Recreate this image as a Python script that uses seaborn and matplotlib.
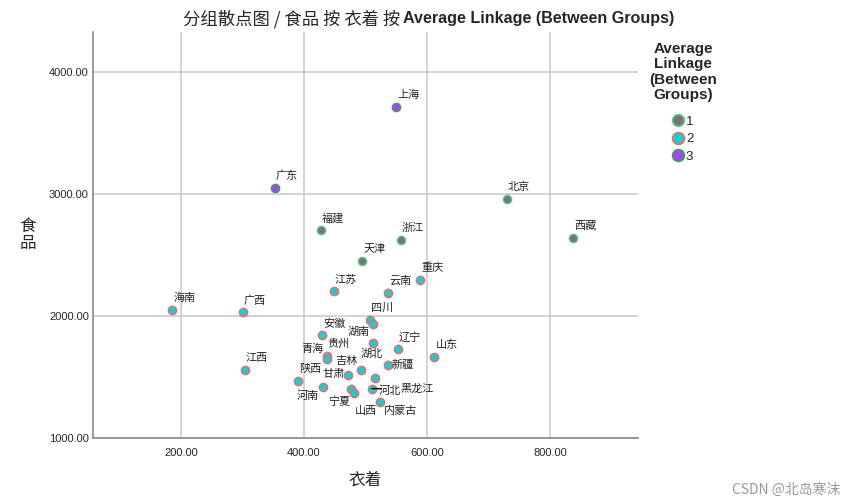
import matplotlib
matplotlib.use("Agg")
import matplotlib.pyplot as plt
from matplotlib.lines import Line2D
import seaborn as sns
import pandas as pd

# ---- data ----
provinces = ["上海", "广东", "北京", "西藏", "福建", "浙江", "天津",
             "江苏", "云南", "重庆", "四川", "湖南", "安徽", "湖北", "辽宁",
             "山东", "贵州", "青海", "新疆", "吉林", "甘肃", "陕西", "河北",
             "河南", "宁夏", "山西", "黑龙江", "内蒙古", "江西", "海南", "广西"]
clothing = [550, 353, 730, 838, 428, 557, 495,
            449, 537, 589, 507, 512, 430, 512, 553,
            612, 437, 438, 536, 492, 472, 391, 515,
            431, 477, 481, 510, 524, 304, 186, 301]
food = [3714, 3054, 2958, 2643, 2707, 2624, 2454,
        2202, 2191, 2298, 1970, 1937, 1841, 1778, 1729,
        1668, 1674, 1649, 1602, 1559, 1518, 1468, 1491,
        1422, 1405, 1367, 1405, 1296, 1559, 2052, 2030]
cluster = [3, 3, 1, 1, 1, 1, 1,
           2, 2, 2, 2, 2, 2, 2, 2,
           2, 2, 2, 2, 2, 2, 2, 2,
           2, 2, 2, 2, 2, 2, 2, 2]
cluster_levels = [1, 2, 3]
x_ticks = [200, 400, 600, 800]
y_ticks = [1000, 2000, 3000, 4000]

# ---- styling ----
face_colors = {1: "#767676", 2: "#1ecccc", 3: "#a24af2"}
edge_colors = {1: "#5cc98e", 2: "#ee6a6c", 3: "#3f9d59"}
# label offsets in pixels (dx right, dy up)
label_offsets = {
    "湖南": (-14, -8), "湖北": (-1, -11), "青海": (-15, 10), "新疆": (15, 0),
    "吉林": (-14, 9), "甘肃": (-15, 1), "河北": (15, -13), "河南": (-15, -9),
    "宁夏": (-12, -13), "山西": (12, -18), "黑龙江": (45, 0), "内蒙古": (20, -9),
}
default_offset = (12, 12)

sns.set_style("white")
plt.rcParams["font.family"] = ["Liberation Sans", "Noto Sans CJK SC", "DejaVu Sans"]

df = pd.DataFrame({"name": provinces, "x": clothing, "y": food, "cluster": cluster})

fig = plt.figure(figsize=(8.54, 5.04), dpi=100)
ax = fig.add_axes([93 / 854, 1 - 438 / 504, (638 - 93) / 854, (438 - 32) / 504])

for c in cluster_levels:
    sub = df[df["cluster"] == c]
    sns.scatterplot(data=sub, x="x", y="y", ax=ax, color=face_colors[c],
                    edgecolor=edge_colors[c], linewidth=1.0, s=36, zorder=3,
                    legend=False)

cjk = ["Noto Sans CJK SC", "DejaVu Sans"]
for _, r in df.iterrows():
    dx, dy = label_offsets.get(r["name"], default_offset)
    kw = dict(xy=(r["x"], r["y"]), xytext=(dx, dy), textcoords="offset pixels",
              ha="center", va="center", fontsize=8, family=cjk,
              color="#222222", zorder=4)
    if r["name"] == "黑龙江":
        kw["arrowprops"] = dict(arrowstyle="-", color="black", lw=1,
                                shrinkA=11, shrinkB=0)
    ax.annotate(r["name"], **kw)

ax.set_xlim(57, 943)
ax.set_ylim(1000, 4330)
ax.set_xticks(x_ticks)
ax.set_yticks(y_ticks)
ax.set_xticklabels([f"{v:.2f}" for v in x_ticks], fontsize=8)
ax.set_yticklabels([f"{v:.2f}" for v in y_ticks], fontsize=8)
ax.tick_params(axis="x", length=0, pad=7)
ax.tick_params(axis="y", length=0, pad=3)
ax.grid(True, color="#c8c8c8", lw=1.1, zorder=0)
ax.set_axisbelow(True)
for s in ["top", "right"]:
    ax.spines[s].set_visible(False)
for s in ["left", "bottom"]:
    ax.spines[s].set_color("#888888")
    ax.spines[s].set_linewidth(1.2)

ax.set_xlabel("衣着", fontsize=12, family=cjk, labelpad=10)
ax.set_ylabel("食\n品", fontsize=12, family=cjk, rotation=0, labelpad=0,
              va="center", linespacing=0.95)
ax.yaxis.set_label_coords(-0.12, 0.5)

# title: CJK part regular, Latin part bold
fig.text(400 / 854, 1 - 19 / 504, "分组散点图 / 食品 按 衣着 按", ha="right",
         va="center", fontsize=12.5, family=cjk)
fig.text(403 / 854, 1 - 19 / 504, "Average Linkage (Between Groups)", ha="left",
         va="center", fontsize=11.6, fontweight="bold")

handles = [Line2D([], [], marker="o", linestyle="", markersize=8.5,
                  markerfacecolor=face_colors[c], markeredgecolor=edge_colors[c],
                  markeredgewidth=1.2, label=str(c)) for c in cluster_levels]
leg = fig.legend(handles=handles, title="Average\nLinkage\n(Between\nGroups)",
                 loc="upper center", bbox_to_anchor=(683 / 854, 1 - 30 / 504),
                 frameon=False, fontsize=9.5, handlelength=0.8, handletextpad=0.2,
                 labelspacing=0.4, alignment="center")
t = leg.get_title()
t.set_fontweight("bold")
t.set_fontsize(11)
t.set_linespacing(1.12)
t.set_multialignment("center")
leg._legend_box.sep = 10

fig.text(1 - 14 / 854, 14 / 504, "CSDN @北岛寒沫", ha="right", va="center",
         fontsize=10, color="#999999", family=cjk)

fig.savefig("out.png", dpi=100)
